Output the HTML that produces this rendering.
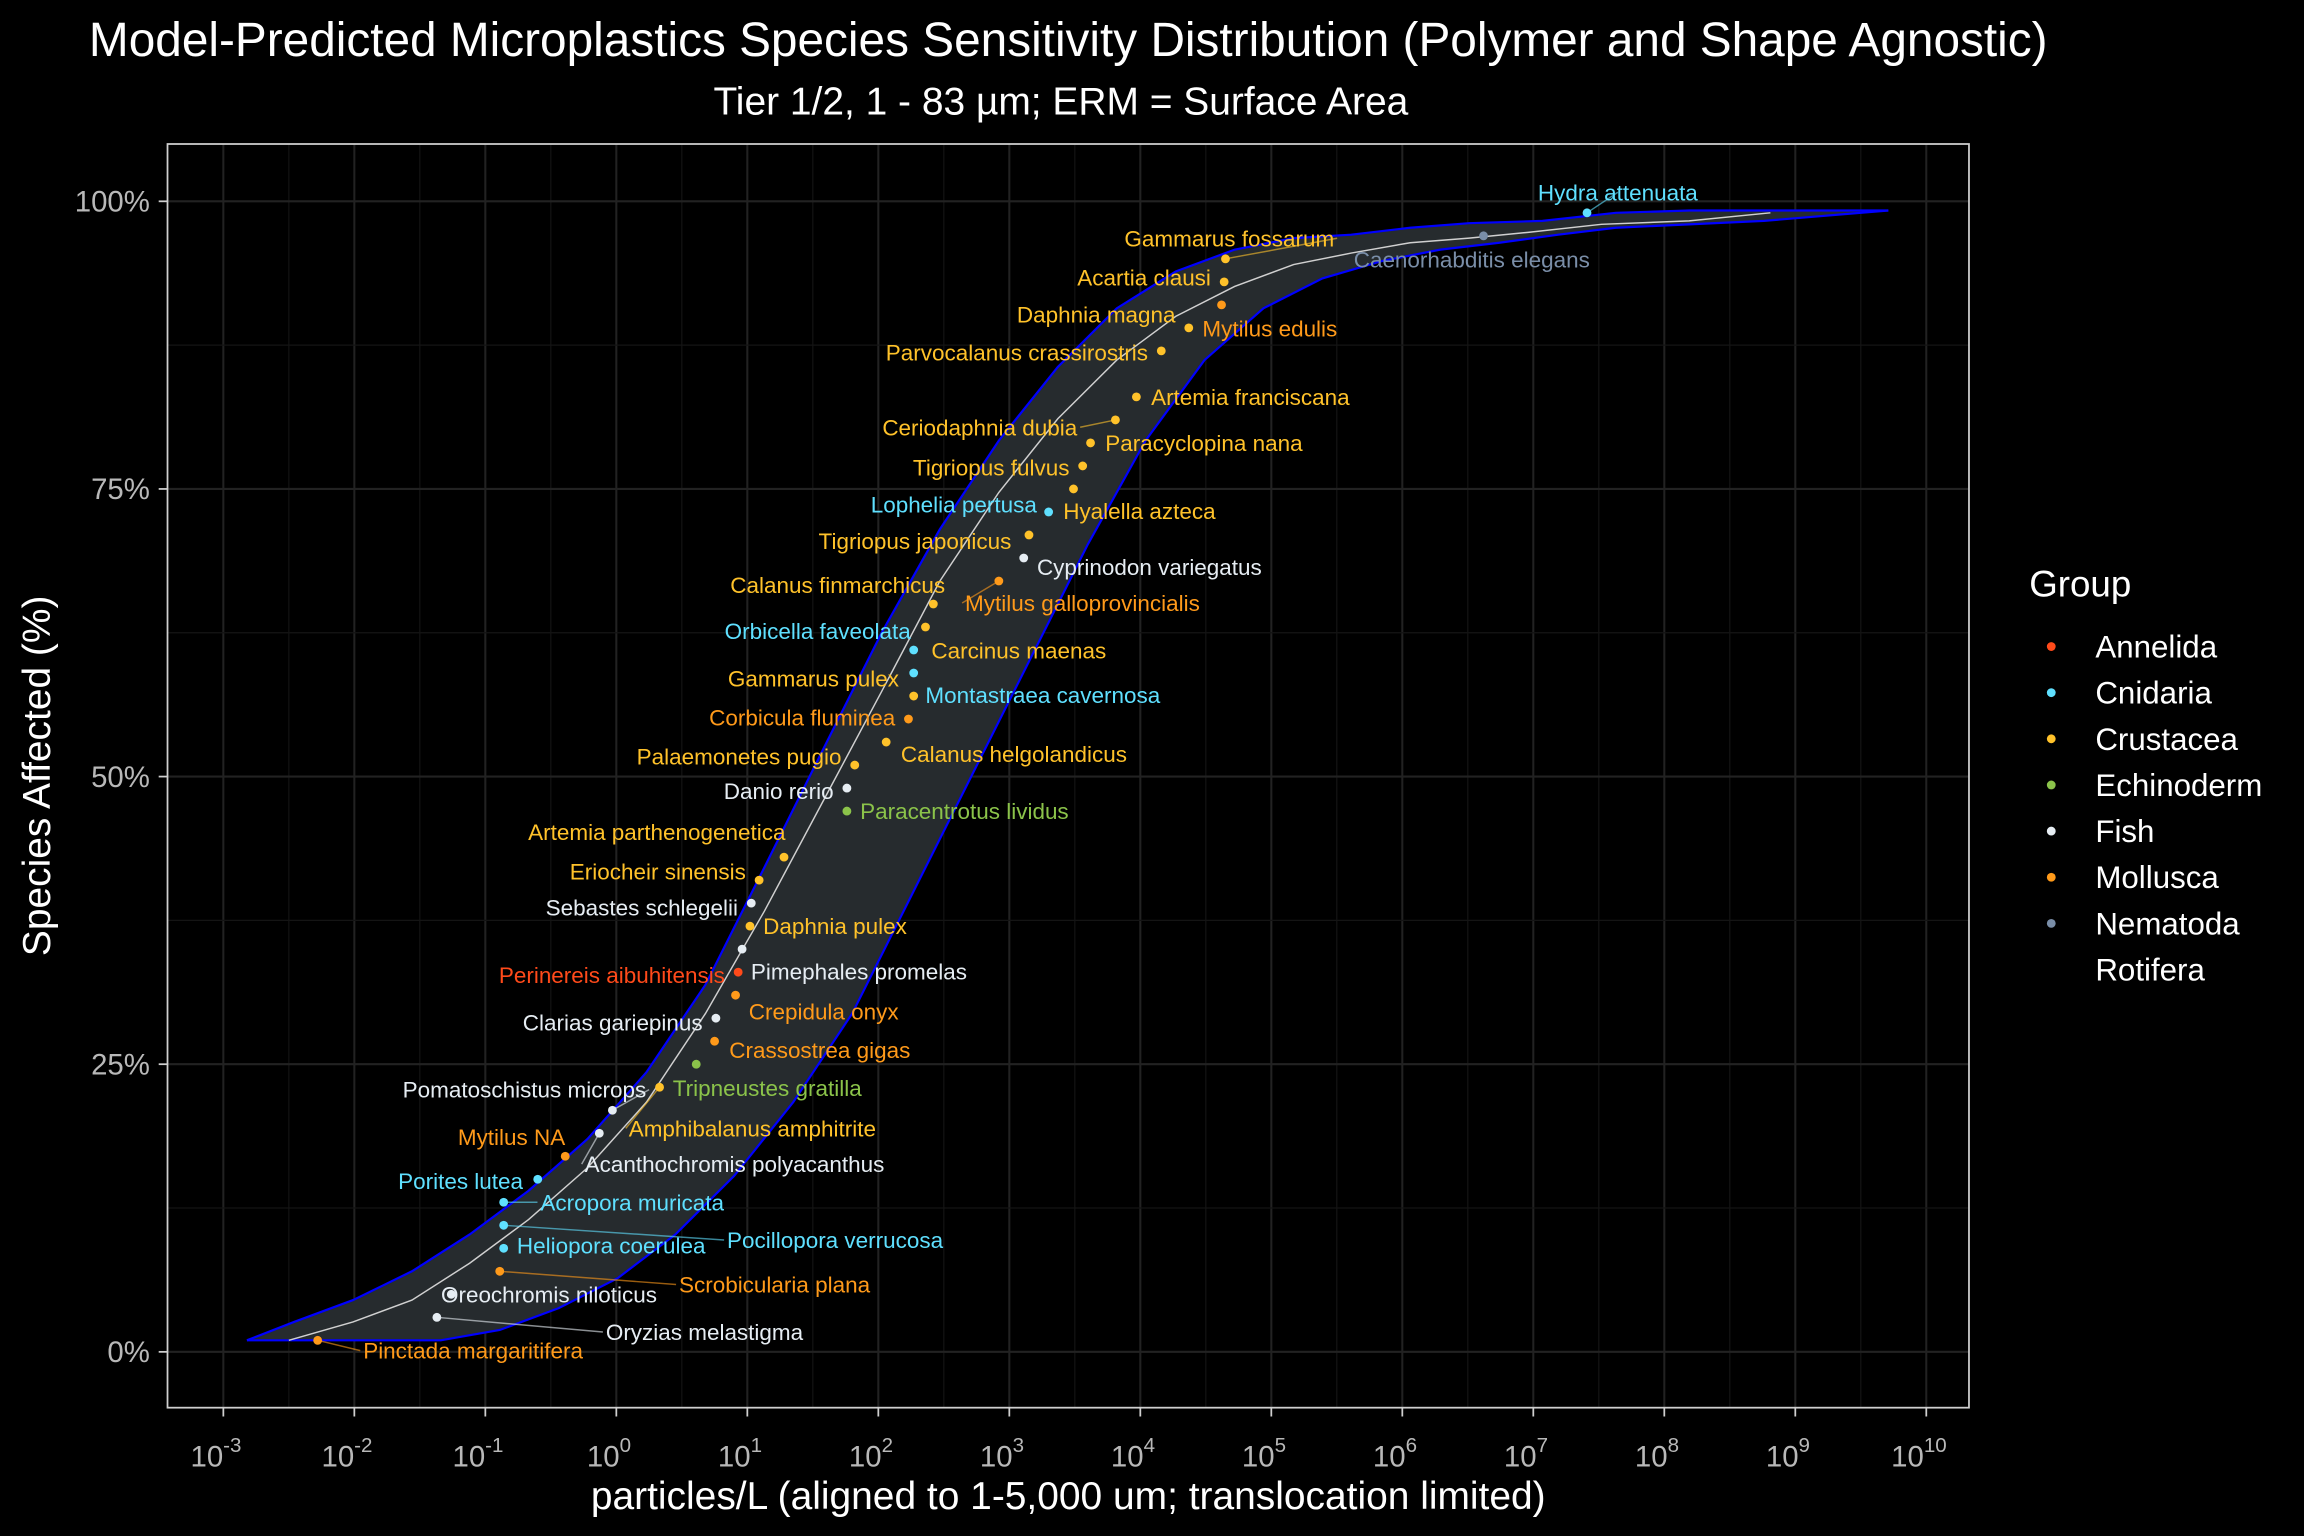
<!DOCTYPE html>
<html><head><meta charset="utf-8"><style>
html,body{margin:0;padding:0;background:#000;}
svg{display:block;font-family:"Liberation Sans",sans-serif;}
</style></head><body>
<svg id="c" width="2304" height="1536" viewBox="0 0 1568 1045.33" xmlns="http://www.w3.org/2000/svg">
<rect width="1568" height="1046" fill="#000"/>
<text x="727" y="38" fill="#fff" font-size="32.5" text-anchor="middle">Model-Predicted Microplastics Species Sensitivity Distribution (Polymer and Shape Agnostic)</text>
<text x="722" y="78" fill="#fff" font-size="26.5" text-anchor="middle">Tier 1/2, 1 - 83 µm; ERM = Surface Area</text>
<text x="727" y="1027" fill="#fff" font-size="26.5" text-anchor="middle">particles/L (aligned to 1-5,000 um; translocation limited)</text>
<text transform="translate(34,528) rotate(-90)" fill="#fff" font-size="26.5" text-anchor="middle">Species Affected (%)</text>
<g id="grid"></g><g id="band"></g><g id="marks"></g><g id="axes"></g><g id="legend"></g>
</svg>
<script>
const ticksLog=[-3,-2,-1,0,1,2,3,4,5,6,7,8,9,10];
const ticksPct=[0,25,50,75,100];
const tickPctLabels=["0%","25%","50%","75%","100%"];
const groups=["Annelida","Cnidaria","Crustacea","Echinoderm","Fish","Mollusca","Nematoda","Rotifera"];
const groupColors=["#ff4a1a","#5fe0ff","#ffc22a","#8bc34a","#e6edf3","#ff9a1a","#7a8ea8","#000000"];
const species=["Hydra attenuata","Caenorhabditis elegans","Gammarus fossarum","Acartia clausi","Daphnia magna","Mytilus edulis","Parvocalanus crassirostris","Artemia franciscana","Ceriodaphnia dubia","Paracyclopina nana","Tigriopus fulvus","Hyalella azteca","Lophelia pertusa","Tigriopus japonicus","Cyprinodon variegatus","Mytilus galloprovincialis","Calanus finmarchicus","Carcinus maenas","Orbicella faveolata","Montastraea cavernosa","Gammarus pulex","Corbicula fluminea","Calanus helgolandicus","Palaemonetes pugio","Danio rerio","Paracentrotus lividus","Artemia parthenogenetica","Eriocheir sinensis","Sebastes schlegelii","Daphnia pulex","Pimephales promelas","Perinereis aibuhitensis","Crepidula onyx","Clarias gariepinus","Crassostrea gigas","Tripneustes gratilla","Amphibalanus amphitrite","Pomatoschistus microps","Acanthochromis polyacanthus","Mytilus NA","Porites lutea","Acropora muricata","Pocillopora verrucosa","Heliopora coerulea","Scrobicularia plana","Oreochromis niloticus","Oryzias melastigma","Pinctada margaritifera"];
const speciesGroup=[1,6,2,2,2,5,2,2,2,2,2,2,1,2,4,5,2,2,1,1,2,5,2,2,4,3,2,2,4,2,4,0,5,4,5,3,2,4,4,5,1,1,1,1,5,4,4,5];
const logConc=[7.41,6.62,4.65,4.64,4.37,4.62,4.16,3.97,3.81,3.62,3.56,3.49,3.30,3.15,3.11,2.92,2.42,2.36,2.27,2.27,2.27,2.23,2.06,1.82,1.76,1.76,1.28,1.09,1.03,1.02,0.96,0.93,0.91,0.76,0.75,0.61,0.33,-0.03,-0.13,-0.39,-0.60,-0.86,-0.86,-0.86,-0.89,-1.26,-1.37,-2.28];
const pctAffected=[99,97,95,93,89,91,87,83,81,79,77,75,73,71,69,67,65,63,61,59,57,55,53,51,49,47,43,41,39,37,35,33,31,29,27,25,23,21,19,17,15,13,11,9,7,5,3,1];
const labelOffsets=[[21,-14,"middle"],[-8,16,"middle"],[74,-14,"end"],[-9,-3,"end"],[-9,-9,"end"],[-13,16,"start"],[-9,1,"end"],[10,0,"start"],[-26,5,"end"],[10,0,"start"],[-9,1,"end"],[-7,15,"start"],[-8,-5,"end"],[-12,4,"end"],[9,6,"start"],[-23,15,"start"],[8,-13,"end"],[4,16,"start"],[-2,-13,"end"],[8,15,"start"],[-10,-12,"end"],[-9,-1,"end"],[10,8,"start"],[-9,-6,"end"],[-9,2,"end"],[9,0,"start"],[1,-17,"end"],[-9,-6,"end"],[-9,3,"end"],[9,0,"start"],[6,15,"start"],[-9,2,"end"],[9,11,"start"],[-9,3,"end"],[10,6,"start"],[-16,16,"start"],[-21,28,"start"],[23,-14,"end"],[-10,21,"start"],[0,-13,"end"],[-10,1,"end"],[25,0,"start"],[152,10,"start"],[9,-2,"start"],[122,9,"start"],[-7,0,"start"],[115,10,"start"],[31,7,"start"]];
const midLog=[-2.50,-2.01,-1.56,-1.12,-0.67,-0.22,0.23,0.68,1.13,1.58,2.03,2.47,2.92,3.37,3.82,4.27,4.72,5.17,5.61,6.06,6.51,6.96,7.52,8.19,8.81];
const midPct=[1.0,2.6,4.5,7.7,11.5,16.0,21.7,29.4,38.3,47.9,57.5,67.0,74.7,81.1,86.2,90.0,92.6,94.5,95.5,96.4,96.8,97.3,98.0,98.3,99.0];
const upLog=[-2.82,-2.46,-2.01,-1.56,-1.12,-0.67,-0.22,0.23,0.68,1.13,1.58,2.03,2.47,2.92,3.37,3.82,4.27,4.72,5.17,5.61,6.06,6.51,7.07,7.63,8.19,9.71];
const upPct=[1.0,2.6,4.5,7.0,10.2,14.0,18.5,24.3,31.9,42.1,52.4,62.6,71.5,79.2,85.6,90.7,93.9,95.8,96.8,97.1,97.7,98.1,98.3,99.0,99.2,99.2];
const loLog=[-2.82,-1.34,-0.89,-0.44,0.01,0.45,0.90,1.35,1.80,2.25,2.70,3.15,3.60,4.04,4.49,4.94,5.39,5.84,6.29,6.74,7.19,7.63,8.76,9.71];
const loPct=[1.0,1.0,1.9,3.8,6.4,10.2,15.3,21.7,29.4,39.6,49.8,60.0,70.2,79.2,86.2,90.7,93.3,94.8,95.8,96.4,97.1,97.7,98.3,99.2];

const NS="http://www.w3.org/2000/svg";
const P={l:114,r:1340,t:98,b:958};
const X=l=>152+(l+3)*89.15;
const Y=p=>920-p*7.83;
function mk(tag,attrs,parent){const e=document.createElementNS(NS,tag);for(const k in attrs)e.setAttribute(k,attrs[k]);parent.appendChild(e);return e;}
const grid=document.getElementById('grid'),band=document.getElementById('band'),marks=document.getElementById('marks'),axes=document.getElementById('axes'),legend=document.getElementById('legend');

ticksLog.forEach((t,i)=>{
  if(i<ticksLog.length-1){const m=mk('line',{x1:X(t+0.5),x2:X(t+0.5),y1:P.t,y2:P.b,stroke:'#141414','stroke-width':0.8},grid);
  
  }
  const g=mk('line',{x1:X(t),x2:X(t),y1:P.t,y2:P.b,stroke:'#222','stroke-width':1.4},grid);
  
  
});
ticksPct.forEach((p,i)=>{
  if(i<ticksPct.length-1){const m=mk('line',{x1:P.l,x2:P.r,y1:Y(p+12.5),y2:Y(p+12.5),stroke:'#141414','stroke-width':0.8},grid);
  
  }
  const g=mk('line',{x1:P.l,x2:P.r,y1:Y(p),y2:Y(p),stroke:'#222','stroke-width':1.4},grid);
  
  
});

const up=upLog.map((l,i)=>[X(l),Y(upPct[i])]);
const lo=loLog.map((l,i)=>[X(l),Y(loPct[i])]);
const poly=up.concat(lo.slice().reverse());
const bp=mk('path',{d:'M'+poly.map(p=>p.join(',')).join('L')+'Z',fill:'#262b2e'},band);


const ul=mk('path',{d:'M'+up.map(p=>p.join(',')).join('L'),fill:'none',stroke:'#0000ff','stroke-width':1.5},band);


const ll=mk('path',{d:'M'+lo.map(p=>p.join(',')).join('L'),fill:'none',stroke:'#0000ff','stroke-width':1.5},band);


const ml=mk('path',{d:'M'+midLog.map((l,i)=>X(l)+','+Y(midPct[i])).join('L'),fill:'none',stroke:'#d0d0d0','stroke-width':1},band);



species.forEach((s,i)=>{
  const c=groupColors[speciesGroup[i]];
  const px=X(logConc[i]),py=Y(pctAffected[i]);
  const o=labelOffsets[i];
  const lx=px+o[0],ly=py+o[1];
  if(Math.abs(o[0])>20||Math.abs(o[1])>20){
    const sx=o[2]==='start'?lx-2:(o[2]==='end'?lx+2:lx);
    const sg=mk('line',{x1:px,y1:py,x2:sx,y2:ly,stroke:c,'stroke-width':1,opacity:0.6},marks);
    
    
  }
  const pt=mk('circle',{cx:px,cy:py,r:3,fill:c},marks);
  
  
  const t=mk('text',{x:lx,y:ly+5.5,fill:c,'font-size':15.3,'text-anchor':o[2]},marks);
  t.textContent=s;
  
  
});

const fr=mk('rect',{x:P.l,y:P.t,width:P.r-P.l,height:P.b-P.t,fill:'none',stroke:'#cfcfcf','stroke-width':1.2},axes);


ticksLog.forEach(t=>{
  const tk=mk('line',{x1:X(t),x2:X(t),y1:P.b,y2:P.b+6,stroke:'#cfcfcf','stroke-width':1.2},axes);
  
  
  const tx=mk('text',{x:X(t)-5,y:998,fill:'#b8b8b8','font-size':20,'text-anchor':'middle'},axes);
  
  
  tx.appendChild(document.createTextNode('10'));
  const sp=document.createElementNS(NS,'tspan');sp.setAttribute('dy','-10');sp.setAttribute('font-size','14');sp.textContent=String(t);tx.appendChild(sp);
});
ticksPct.forEach((p,i)=>{
  const tk=mk('line',{x1:P.l-6,x2:P.l,y1:Y(p),y2:Y(p),stroke:'#cfcfcf','stroke-width':1.2},axes);
  
  
  const tx=mk('text',{x:P.l-12,y:Y(p)+7,fill:'#b8b8b8','font-size':20,'text-anchor':'end'},axes);
  tx.textContent=tickPctLabels[i];
  
  
});

const lt=mk('text',{x:1381,y:406,fill:'#fff','font-size':25},legend);
lt.textContent='Group';


groups.forEach((g,i)=>{
  const y=440+i*31.4;
  const d=mk('circle',{cx:1396,cy:y,r:3,fill:groupColors[i]},legend);
  
  
  const t=mk('text',{x:1426,y:y+7.5,fill:'#fff','font-size':21.3},legend);
  t.textContent=g;
  
  
});
</script>
</body></html>
